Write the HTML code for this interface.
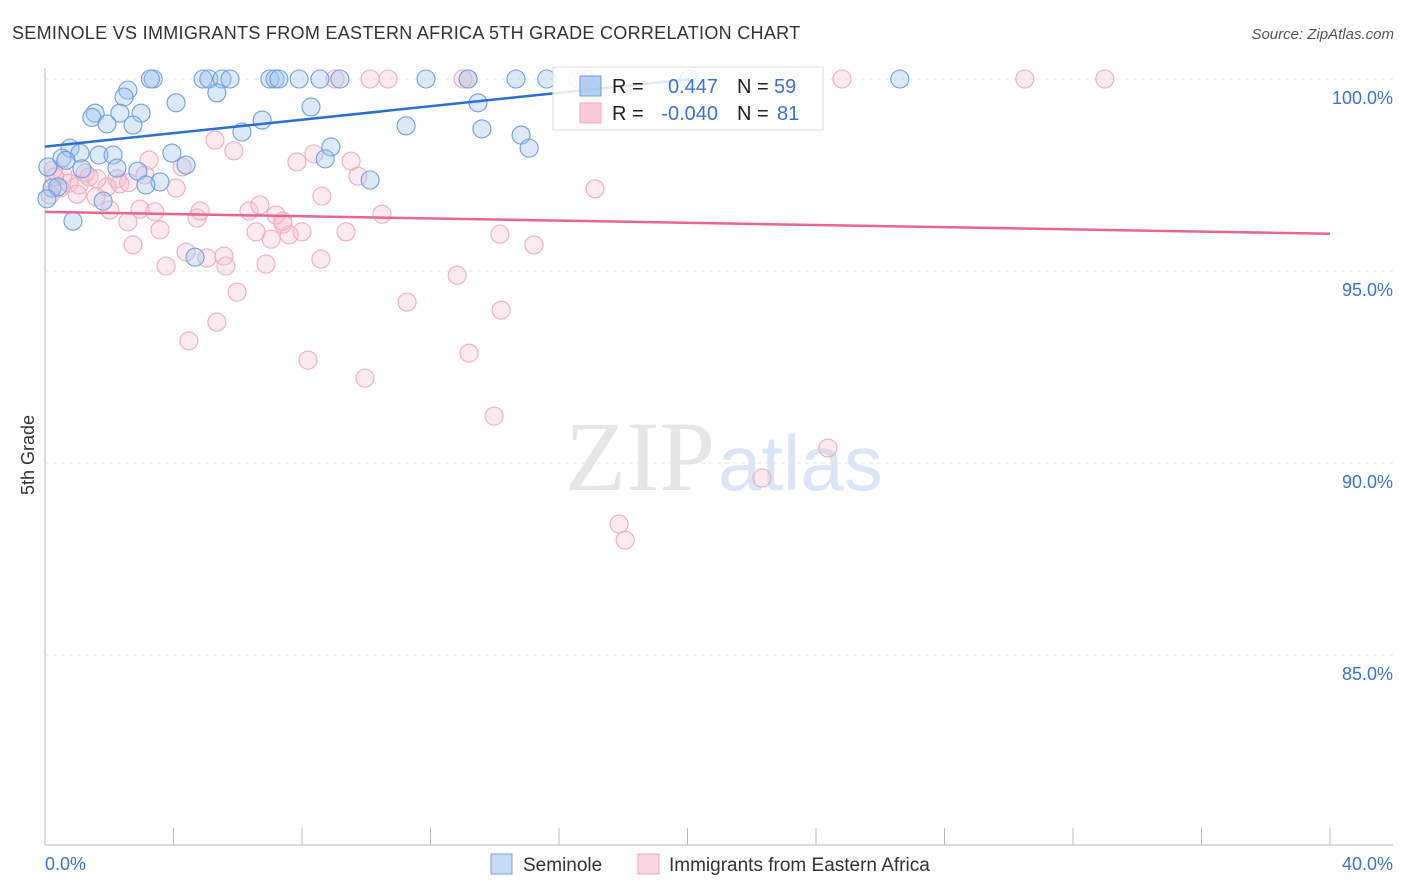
<!DOCTYPE html>
<html><head><meta charset="utf-8"><style>
body{margin:0;background:#fff;font-family:"Liberation Sans",sans-serif;}
#c{position:absolute;left:0;top:0;}
</style></head><body>
<svg id="c" width="1406" height="892">
<text x="12" y="39" font-size="18" fill="#333" letter-spacing="0.3">SEMINOLE VS IMMIGRANTS FROM EASTERN AFRICA 5TH GRADE CORRELATION CHART</text>
<text x="1394" y="39" font-size="15" fill="#555" font-style="italic" text-anchor="end">Source: ZipAtlas.com</text>
<g id="grid"></g>
<text x="715" y="490" font-size="100" fill="#e6e6e6" font-family="Liberation Serif,serif" text-anchor="end">ZIP</text>
<text x="718" y="490" font-size="78" fill="#dae6f5" text-anchor="start">atlas</text>
<g id="pts"></g>
<g id="lines"></g>
<text transform="translate(34,455) rotate(-90)" font-size="18" fill="#333" text-anchor="middle">5th Grade</text>
<g>
<rect x="553" y="67" width="270" height="63" fill="rgba(255,255,255,0.85)" stroke="#ddd"/>
<rect x="580" y="76" width="21" height="20" fill="rgba(150,185,235,0.7)" stroke="#6b9be0"/>
<rect x="580" y="103" width="21" height="20" fill="rgba(248,190,208,0.8)" stroke="#f0a8c0"/>
<text x="612" y="93" font-size="20" fill="#222">R = </text><text x="718" y="93" font-size="20" fill="#3b73d0" text-anchor="end">0.447</text>
<text x="737" y="93" font-size="20" fill="#222">N = </text><text x="774" y="93" font-size="20" fill="#3b73d0">59</text>
<text x="612" y="120" font-size="20" fill="#222">R = </text><text x="718" y="120" font-size="20" fill="#3b73d0" text-anchor="end">-0.040</text>
<text x="737" y="120" font-size="20" fill="#222">N = </text><text x="777" y="120" font-size="20" fill="#3b73d0">81</text>
</g>
<g>
<rect x="491" y="854" width="21" height="20" fill="rgba(160,195,240,0.6)" stroke="#7aa5e0"/>
<text x="523" y="871" font-size="19" fill="#333">Seminole</text>
<rect x="638" y="854" width="21" height="20" fill="rgba(248,195,212,0.7)" stroke="#f0a8c0"/>
<text x="669" y="871" font-size="19" fill="#333">Immigrants from Eastern Africa</text>
</g>
<text x="45" y="870" font-size="18" fill="#3b73d0">0.0%</text>
<text x="1393" y="870" font-size="18" fill="#3b73d0" text-anchor="end">40.0%</text>
</svg>
<script>
const yTicks=[100,95,90,85];
const yTickLabels=["100.0%","95.0%","90.0%","85.0%"];
const xTicks=[0,4,8,12,16,20,24,28,32,36,40];
const blueX=[3.37,3.28,4.92,5.1,5.51,5.76,7,7.16,7.28,7.91,8.56,9.18,11.86,13.17,14.66,15.62,26.61,20.05,2.58,2.46,4.08,5.35,1.56,1.46,2.33,2.99,8.28,13.48,1.93,2.74,6.13,6.76,11.24,13.6,14.82,15.07,0.78,1.09,0.53,0.65,1.68,2.12,4.39,3.95,8.9,8.72,1.15,2.24,2.89,3.58,3.14,10.12,0.09,0.22,0.4,0.06,1.81,0.87,4.67];
const blueY=[100,100,100,100,100,100,100,100,100,100,100,100,100,100,100,100,100,100,99.71,99.53,99.38,99.64,99.11,99,99.11,99.11,99.27,99.38,98.83,98.8,98.62,98.93,98.78,98.7,98.54,98.2,98.2,98.07,97.94,97.88,98.02,98.02,97.76,98.07,98.23,97.92,97.66,97.68,97.6,97.32,97.24,97.37,97.71,97.16,97.19,96.88,96.82,96.3,95.36];
const pinkX=[9.03,10.12,10.68,13.01,13.17,16.59,16.81,23.19,24.81,30.5,32.99,5.29,5.88,7.84,8.37,9.53,9.74,8.62,3.24,4.27,4.08,2.33,1.93,1.62,1.25,0.56,0.25,0.75,1.06,0.47,0.16,1.59,2.24,3.11,2.02,2.58,2.96,3.42,3.58,4.83,4.73,6.35,6.69,7.19,7.41,6.57,7.04,7.6,8,9.37,10.49,2.74,4.39,5.04,5.57,5.63,3.77,6.88,8.59,5.98,5.35,4.48,8.19,9.96,11.27,12.83,14.2,13.2,13.98,14.16,15.22,17.12,24.37,22.32,17.87,18.06,1.37,0.3,2.6,1.0,7.4];
const pinkY=[100,100,100,100,100,100,100,100,100,100,100,98.41,98.13,97.84,98.05,97.86,97.47,96.95,97.89,97.71,97.16,97.27,97.19,97.4,97.55,97.5,97.63,97.29,97.24,97.16,96.98,96.93,97.4,97.5,96.59,96.28,96.61,96.54,96.07,96.56,96.38,96.56,96.72,96.46,96.22,96.02,95.83,95.94,96.02,96.02,96.48,95.68,95.49,95.34,95.39,95.13,95.13,95.18,95.31,94.45,93.67,93.18,92.68,92.21,94.19,94.89,93.98,92.86,91.22,95.96,95.68,97.14,90.39,89.61,88.41,87.99,97.45,97.45,97.3,97.0,96.3];
const blueTrend=[0,98.24,20.1,100];
const pinkTrend=[0,96.54,40,95.97];
const X=v=>45+v*32.125, Y=v=>79+(100-v)*38.4;
const NS="http://www.w3.org/2000/svg";
function mk(t,a,p){const e=document.createElementNS(NS,t);for(const k in a)e.setAttribute(k,a[k]);p.appendChild(e);return e;}
const g=document.getElementById('grid');
const ax=mk('line',{x1:45,y1:68,x2:45,y2:845,stroke:'#bbb'},g);


const bx=mk('line',{x1:45,y1:845,x2:1393,y2:845,stroke:'#bbb'},g);


yTicks.forEach((t,i)=>{
 const l=mk('line',{x1:45,y1:Y(t),x2:1393,y2:Y(t),stroke:'#e6e6e6','stroke-dasharray':'4,4'},g);
 
 
 const tx=mk('text',{x:1393,y:Y(t)+25,'font-size':18,fill:'#3b73d0','text-anchor':'end'},g);
 tx.textContent=yTickLabels[i];
 
 
});
xTicks.forEach(t=>{
 const l=mk('line',{x1:X(t),y1:828,x2:X(t),y2:845,stroke:'#bbb'},g);
 
 
});
const p=document.getElementById('pts');
pinkX.forEach((v,i)=>{
 const c=mk('circle',{cx:X(v),cy:Y(pinkY[i]),r:9,fill:'rgba(246,185,205,0.3)',stroke:'#efabc2','stroke-width':1.1},p);
 
 
});
blueX.forEach((v,i)=>{
 const c=mk('circle',{cx:X(v),cy:Y(blueY[i]),r:9,fill:'rgba(160,196,240,0.38)',stroke:'#6f9fe0','stroke-width':1.1},p);
 
 
});
const L=document.getElementById('lines');
const b=mk('line',{x1:X(blueTrend[0]),y1:Y(blueTrend[1]),x2:X(blueTrend[2]),y2:Y(blueTrend[3]),stroke:'#2a6fd3','stroke-width':2.5},L);


const q=mk('line',{x1:X(pinkTrend[0]),y1:Y(pinkTrend[1]),x2:X(pinkTrend[2]),y2:Y(pinkTrend[3]),stroke:'#e86592','stroke-width':2.5},L);


</script>
</body></html>
